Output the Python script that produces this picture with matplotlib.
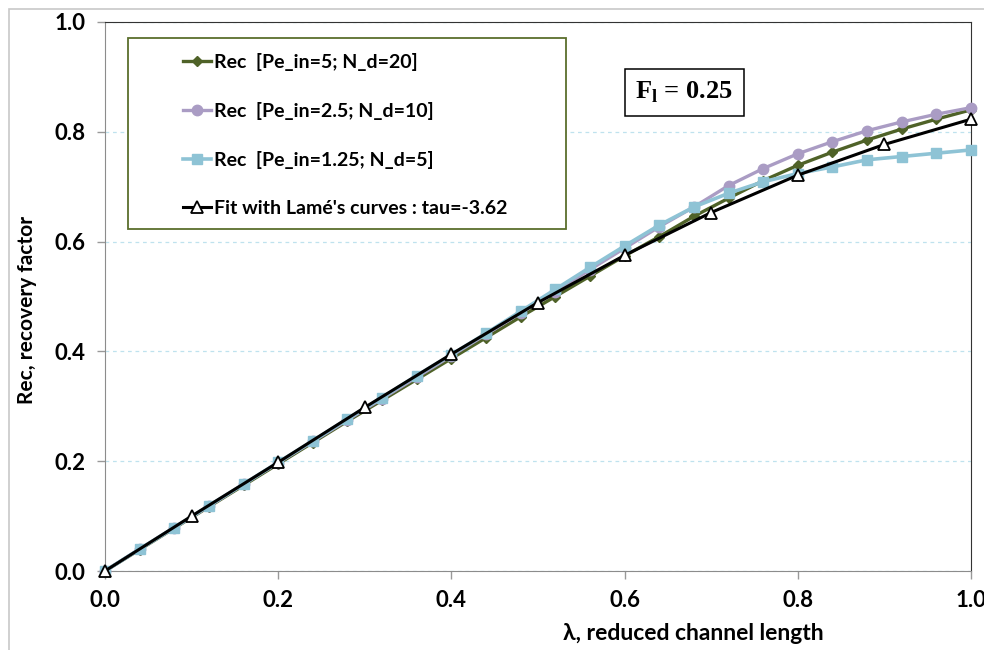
import numpy as np
import matplotlib
matplotlib.use("Agg")
import matplotlib.pyplot as plt
from matplotlib.patches import Rectangle

plt.rcParams["font.family"] = ["Lato", "DejaVu Sans"]
plt.rcParams["font.weight"] = "bold"
plt.rcParams["mathtext.fontset"] = "custom"
plt.rcParams["mathtext.bf"] = "Liberation Serif:bold"
plt.rcParams["mathtext.rm"] = "Liberation Serif:bold"

# data
lam = [0.00, 0.04, 0.08, 0.12, 0.16, 0.20, 0.24, 0.28, 0.32, 0.36, 0.40, 0.44, 0.48,
       0.52, 0.56, 0.60, 0.64, 0.68, 0.72, 0.76, 0.80, 0.84, 0.88, 0.92, 0.96, 1.00]
rec_pe5 = [0.000, 0.039, 0.078, 0.117, 0.156, 0.195, 0.234, 0.273, 0.311, 0.349, 0.387, 0.425, 0.463,
           0.500, 0.537, 0.574, 0.609, 0.646, 0.679, 0.711, 0.739, 0.763, 0.785, 0.805, 0.823, 0.840]
rec_pe25 = [0.000, 0.040, 0.079, 0.118, 0.158, 0.197, 0.236, 0.275, 0.314, 0.353, 0.392, 0.431, 0.470,
            0.509, 0.549, 0.588, 0.627, 0.663, 0.702, 0.733, 0.760, 0.782, 0.802, 0.818, 0.832, 0.844]
rec_pe125 = [0.000, 0.040, 0.079, 0.119, 0.158, 0.198, 0.237, 0.277, 0.316, 0.356, 0.394, 0.433, 0.473,
             0.513, 0.553, 0.592, 0.630, 0.663, 0.688, 0.709, 0.724, 0.736, 0.749, 0.755, 0.761, 0.767]
lam_fit = [0.0, 0.1, 0.2, 0.3, 0.4, 0.5, 0.6, 0.7, 0.8, 0.9, 1.0]
rec_fit = [0.000, 0.100, 0.198, 0.298, 0.395, 0.489, 0.575, 0.653, 0.721, 0.777, 0.823]

labels = ["Rec  [Pe_in=5; N_d=20]", "Rec  [Pe_in=2.5; N_d=10]",
          "Rec  [Pe_in=1.25; N_d=5]", "Fit with Lamé's curves : tau=-3.62"]
ticks = [0.0, 0.2, 0.4, 0.6, 0.8, 1.0]

fig = plt.figure(figsize=(9.84, 6.5), dpi=100)
ax = fig.add_axes([105 / 984, 79 / 650, 866 / 984, 549 / 650])

ax.plot(lam, rec_pe5, "-D", color="#4f6228", lw=2.4, ms=5, label=labels[0], zorder=3, clip_on=False)
ax.plot(lam, rec_pe25, "-o", color="#aa9cc4", lw=2.4, ms=7.5, label=labels[1], zorder=3, clip_on=False)
ax.plot(lam, rec_pe125, "-s", color="#8ec3d5", lw=2.6, ms=7.5, label=labels[2], zorder=3, clip_on=False)
ax.plot(lam_fit, rec_fit, "-^", color="black", mfc="white", mec="black", mew=1.3,
        lw=2.2, ms=8.5, label=labels[3], zorder=4, clip_on=False)

ax.set_xlim(0, 1)
ax.set_ylim(0, 1)
ax.set_xticks(ticks)
ax.set_yticks(ticks)
ax.set_xticklabels([f"{t:.1f}" for t in ticks])
ax.set_yticklabels([f"{t:.1f}" for t in ticks])
ax.tick_params(direction="out", length=6, width=1, color="#999999", labelsize=16, pad=8)
ax.yaxis.grid(True, ls=(0, (3, 3)), color="#bfe2ee", lw=0.9)
ax.set_axisbelow(True)
for s in ["left", "bottom"]:
    ax.spines[s].set_color("#8c8c8c")
for s in ["top", "right"]:
    ax.spines[s].set_color("#333333")

ax.set_xlabel("λ, reduced channel length", fontsize=16.5, fontweight="bold")
ax.xaxis.set_label_coords(0.679, -0.095)
ax.set_ylabel("Rec, recovery factor", fontsize=15, fontweight="bold")
ax.yaxis.set_label_coords(-0.079, 0.475)

# legend box drawn by hand, legend itself frameless inside it
ax.add_patch(Rectangle((23 / 866, 342 / 549), 438 / 866, 191 / 549, transform=ax.transAxes,
                       fc="white", ec="#5a6e2c", lw=1.3, zorder=5))
leg = ax.legend(loc="upper left", bbox_to_anchor=(0.090, 0.944), frameon=False,
                fontsize=14, labelspacing=1.6, handlelength=1.45, handletextpad=0.15,
                borderpad=0, borderaxespad=0)
leg.set_zorder(6)

ax.text(0.669, 0.872, r"$\mathbf{F}_{\mathbf{l}}$ = 0.25", transform=ax.transAxes,
        ha="center", va="center", fontsize=19, family="Liberation Serif", fontweight="bold",
        bbox=dict(boxstyle="square,pad=0.4", fc="white", ec="black", lw=1.1), zorder=6)

# light frame round the whole chart
fig.add_artist(Rectangle((9 / 984, -0.05), 1.2, 1.05 - 9 / 650, transform=fig.transFigure,
                         fill=False, ec="#c8c8c8", lw=1.2))

fig.savefig("out.png", dpi=100)
